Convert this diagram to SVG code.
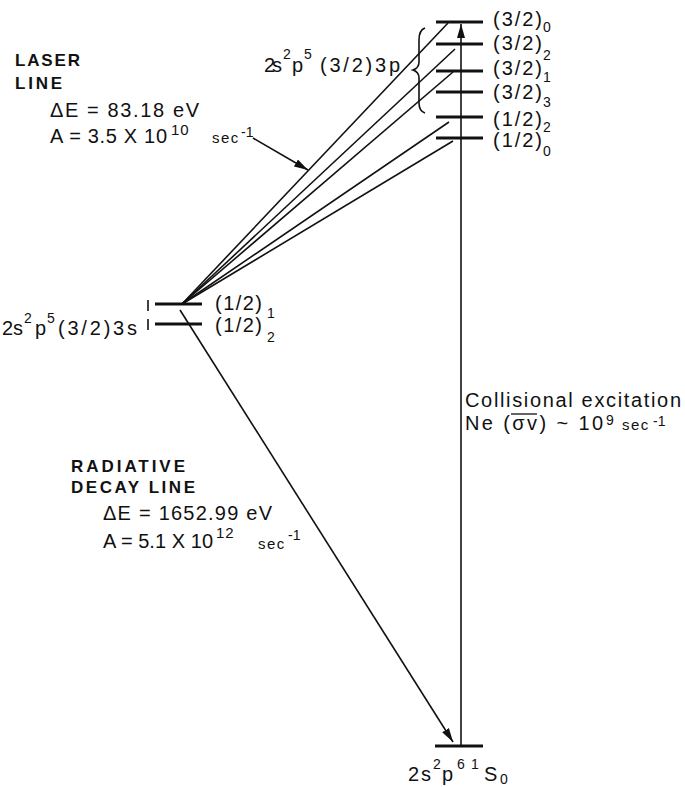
<svg xmlns="http://www.w3.org/2000/svg" width="685" height="787" viewBox="0 0 685 787">
<style>
text{font-family:"Liberation Sans","DejaVu Sans",Arial,sans-serif;fill:#111}
.t{font-size:20px}
.h{font-size:17px;font-weight:bold}
.s{font-size:14px}
.sm{font-size:15px;letter-spacing:1px}
.sec{font-size:15px;letter-spacing:1.5px}
.lv{stroke:#111;stroke-width:2.8;fill:none}
.ln{stroke:#111;stroke-width:1.6;fill:none}
</style>
<defs>
<marker id="ah" markerUnits="userSpaceOnUse" markerWidth="14" markerHeight="8" refX="14" refY="4" orient="auto">
<path d="M0,0 L14,4 L0,8 z" fill="#111"/>
</marker>
</defs>
<rect width="685" height="787" fill="#fff"/>

<g id="connectors">
<line class="ln" x1="182" y1="304" x2="448" y2="23"/>
<line class="ln" x1="182" y1="304" x2="455" y2="49"/>
<line class="ln" x1="182" y1="304" x2="453" y2="72"/>
<line class="ln" x1="182" y1="304" x2="449" y2="122"/>
<line class="ln" x1="182" y1="304" x2="453" y2="141"/>
<line class="ln" x1="180" y1="310" x2="453" y2="742" marker-end="url(#ah)"/>
<line class="ln" x1="461" y1="746" x2="461" y2="24" marker-end="url(#ah)"/>
<line class="ln" x1="253" y1="138" x2="308" y2="170" marker-end="url(#ah)"/>
</g>

<g id="upper-levels">
<line class="lv" x1="436" y1="22" x2="483" y2="22"/>
<line class="lv" x1="436" y1="44" x2="483" y2="44"/>
<line class="lv" x1="436" y1="71" x2="483" y2="71"/>
<line class="lv" x1="436" y1="92" x2="483" y2="92"/>
<line class="lv" x1="436" y1="117" x2="483" y2="117"/>
<line class="lv" x1="436" y1="138" x2="483" y2="138"/>
<text class="t" x="493" y="26" textLength="49">(3/2)</text><text class="s" x="543" y="32">0</text>
<text class="t" x="493" y="50" textLength="49">(3/2)</text><text class="s" x="543" y="60">2</text>
<text class="t" x="493" y="75" textLength="49">(3/2)</text><text class="s" x="543" y="82">1</text>
<text class="t" x="493" y="99" textLength="49">(3/2)</text><text class="s" x="543" y="107">3</text>
<text class="t" x="493" y="126" textLength="49">(1/2)</text><text class="s" x="543" y="132">2</text>
<text class="t" x="493" y="147" textLength="49">(1/2)</text><text class="s" x="543" y="156">0</text>
<path class="ln" stroke-width="2" d="M425 28 Q419 30 419 40 L419 62 Q419 68 413 70 Q419 72 419 78 L419 103 Q419 111 425 113"/>
<text class="t" x="264" y="72" textLength="18">2s</text><text class="s" x="283" y="59">2</text>
<text class="t" x="292" y="72">p</text><text class="s" x="304" y="59">5</text>
<text class="t" x="320" y="72" textLength="80">(3/2)3p</text>
</g>

<g id="lower-levels">
<line class="lv" x1="155" y1="304" x2="202" y2="304"/>
<line class="lv" x1="155" y1="324" x2="202" y2="324"/>
<line class="ln" x1="148" y1="300" x2="148" y2="311"/>
<line class="ln" x1="148" y1="319" x2="148" y2="330"/>
<text class="t" x="215" y="310" textLength="47">(1/2)</text><text class="s" x="267" y="318">1</text>
<text class="t" x="215" y="332" textLength="47">(1/2)</text><text class="s" x="267" y="342">2</text>
<text class="t" x="2" y="335" textLength="21">2s</text><text class="s" x="24" y="323">2</text>
<text class="t" x="35" y="335">p</text><text class="s" x="47" y="323">5</text>
<text class="t" x="58" y="335" textLength="79">(3/2)3s</text>
</g>

<g id="ground-level">
<line class="lv" x1="435" y1="746" x2="483" y2="746"/>
<text class="t" x="408" y="781" textLength="23">2s</text><text class="s" x="433" y="769">2</text>
<text class="t" x="442" y="781">p</text><text class="s" x="457" y="769">6</text>
<text class="s" x="471" y="769">1</text>
<text class="t" x="484" y="781">S</text><text class="s" x="500" y="784">0</text>
</g>

<g id="laser-label">
<text class="h" x="15" y="66" textLength="65">LASER</text>
<text class="h" x="15" y="89" textLength="47">LINE</text>
<text class="t" x="50" y="117" textLength="149">ΔE = 83.18 eV</text>
<text class="t" x="50" y="143" textLength="117">A = 3.5 X 10</text>
<text class="sm" x="171" y="135">10</text>
<text class="sec" x="212" y="143">sec</text>
<text class="s" x="241" y="137" font-size="12">-1</text>
</g>

<g id="radiative-label">
<text class="h" x="71" y="472" textLength="114">RADIATIVE</text>
<text class="h" x="71" y="493" textLength="124">DECAY LINE</text>
<text class="t" x="103" y="520" textLength="169">ΔE = 1652.99 eV</text>
<text class="t" x="103" y="548" textLength="110">A = 5.1 X 10</text>
<text class="sm" x="216" y="538">12</text>
<text class="sec" x="258" y="549">sec</text>
<text class="s" x="288" y="540" font-size="12">-1</text>
</g>

<g id="collisional-label">
<text class="t" x="465" y="407" textLength="216">Collisional excitation</text>
<text class="t" x="465" y="430" textLength="138">Ne (σv) ~ 10</text>
<line x1="511" y1="414" x2="537" y2="414" stroke="#111" stroke-width="1.3"/>
<text class="s" x="606" y="425" font-size="13">9</text>
<text class="sec" x="622" y="430">sec</text>
<text class="s" x="653" y="426" font-size="12">-1</text>
</g>
</svg>
